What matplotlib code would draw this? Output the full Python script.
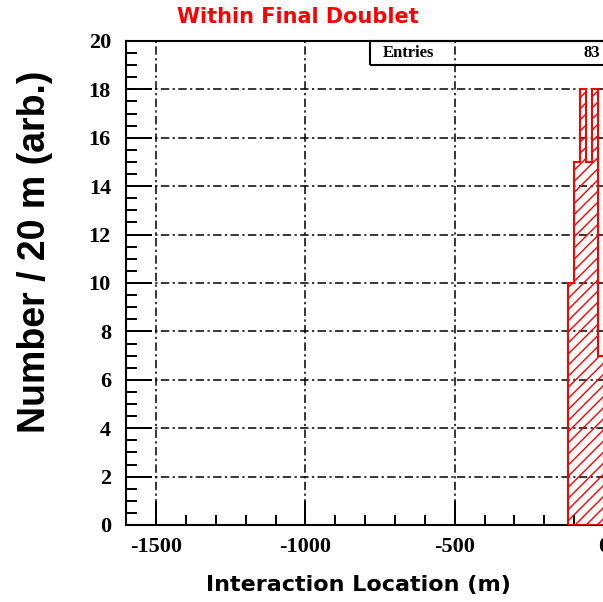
import matplotlib
import matplotlib.pyplot as plt
from matplotlib.patches import Rectangle
from matplotlib.ticker import MultipleLocator

matplotlib.use("Agg")

# histogram of interaction locations, 20 m bins
bin_edges = [-120, -100, -80, -60, -40, -20, 0]
counts = [10, 15, 18, 15, 18, 7]
x_major = [-1500, -1000, -500, 0]

TITLE = "Within Final Doublet"
XLABEL = "Interaction Location (m)"
YLABEL = "Number / 20 m (arb.)"

plt.rcParams["axes.unicode_minus"] = False
plt.rcParams["hatch.linewidth"] = 1.0
plt.rcParams["hatch.color"] = "red"

W, H = 603, 602
fig = plt.figure(figsize=(W / 100, H / 100), dpi=100)
fig.patch.set_facecolor("white")

# axes pixel box: left 126, right beyond figure (cropped), top 41, bottom 525
ax_left, ax_right, ax_top, ax_bottom = 126.2, 633.9, 41, 525
ax = fig.add_axes([ax_left / W, (H - ax_bottom) / H,
                   (ax_right - ax_left) / W, (ax_bottom - ax_top) / H])
ax.set_xlim(-1600, 100)
ax.set_ylim(0, 20)

centers = [(a + b) / 2 for a, b in zip(bin_edges[:-1], bin_edges[1:])]
ax.hist(centers, bins=bin_edges, weights=counts, histtype="stepfilled",
        facecolor="none", edgecolor="red", hatch="///", linewidth=1.5, zorder=3)

dash = (0, (5.5, 2.2, 1.5, 2.2))
for xv in x_major:
    ax.axvline(xv, color="black", linewidth=1.1, linestyle=dash, zorder=1)
for yv in range(2, 20, 2):
    ax.axhline(yv, color="black", linewidth=1.1, linestyle=dash, zorder=1)

ax.xaxis.set_major_locator(MultipleLocator(500))
ax.xaxis.set_minor_locator(MultipleLocator(100))
ax.yaxis.set_major_locator(MultipleLocator(2))
ax.yaxis.set_minor_locator(MultipleLocator(0.5))
ax.tick_params(which="both", direction="in", width=1.4, color="black")
ax.tick_params(axis="x", which="major", length=17, pad=9)
ax.tick_params(axis="x", which="minor", length=7.5)
ax.tick_params(axis="y", which="major", length=18.5, pad=11)
ax.tick_params(axis="y", which="minor", length=8)
for lab in ax.get_xticklabels() + ax.get_yticklabels():
    lab.set_fontfamily("Liberation Serif")
    lab.set_fontweight("bold")
    lab.set_fontsize(16)
for sp in ax.spines.values():
    sp.set_linewidth(1.5)

# stats box
fig.patches.append(Rectangle((370 / W, (H - 65) / H), 1.0, 24 / H,
                             transform=fig.transFigure, fill=False,
                             edgecolor="black", linewidth=1.5, zorder=5))
fig.text(408 / W, (H - 53) / H, "Entries", ha="center", va="center",
         fontfamily="Liberation Serif", fontweight="bold", fontsize=12)
fig.text(600 / W, (H - 53) / H, str(sum(counts)), ha="right", va="center",
         fontfamily="Liberation Serif", fontweight="bold", fontsize=12)

fig.text(298 / W, (H - 17) / H, TITLE, ha="center", va="center",
         color="red", fontfamily="DejaVu Sans", fontweight="bold", fontsize=15)
fig.text(358 / W, (H - 585) / H, XLABEL, ha="center", va="center",
         color="black", fontfamily="DejaVu Sans", fontweight="bold", fontsize=16)
fig.text(35 / W, (H - 252) / H, YLABEL, ha="center", va="center",
         rotation=90, fontfamily="Liberation Sans", fontweight="bold",
         fontsize=27)

fig.savefig("out.png", dpi=100)
